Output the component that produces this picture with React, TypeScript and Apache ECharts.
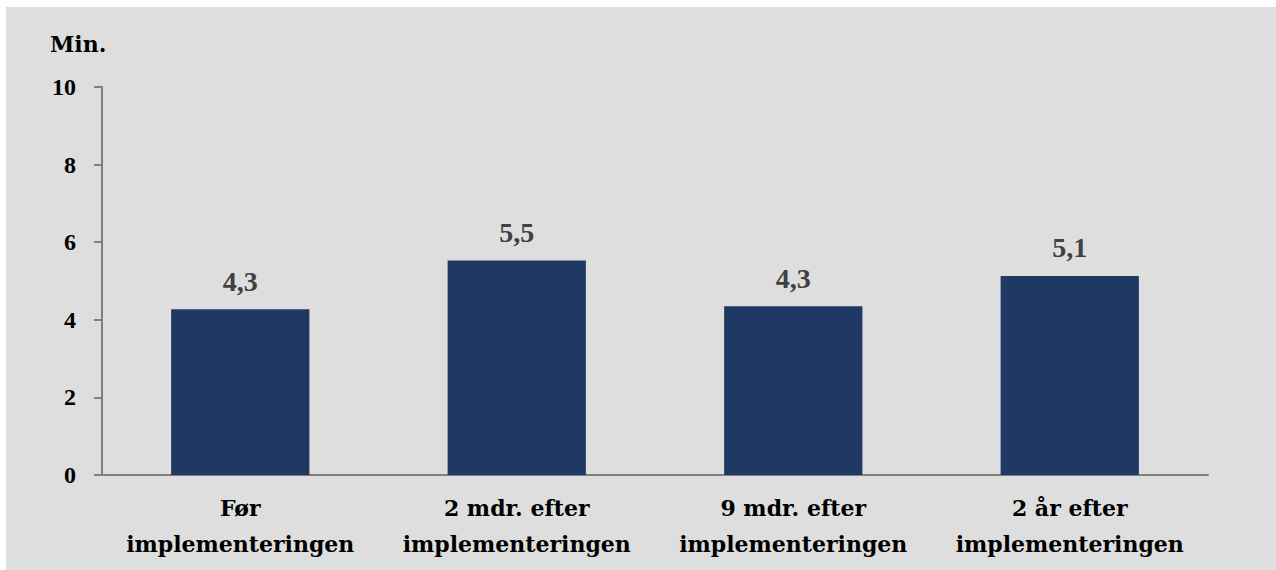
import React, { useEffect, useRef } from "react";
import * as echarts from "echarts";

const categories = [
  "Før\nimplementeringen",
  "2 mdr. efter\nimplementeringen",
  "9 mdr. efter\nimplementeringen",
  "2 år efter\nimplementeringen",
];
const values = [4.27, 5.53, 4.35, 5.13];
const yTicks = [0, 2, 4, 6, 8, 10];
const unitLabel = "Min.";

const FONT = "'Liberation Serif', 'DejaVu Serif', serif";
const WIDE = "'DejaVu Serif', 'Liberation Serif', serif";

export default function App() {
  const ref = useRef<HTMLDivElement>(null);
  useEffect(() => {
    if (!ref.current) return;
    const chart = echarts.init(ref.current, undefined, { renderer: "svg" });
    chart.setOption({
      animation: false,
      backgroundColor: "#dedede",
      grid: { left: 96, right: 68, top: 80, bottom: 95, containLabel: false },
      graphic: [
        {
          type: "text",
          left: 44,
          top: 26,
          style: { text: unitLabel, font: `bold 22px ${WIDE}`, fill: "#000" },
        },
      ],
      xAxis: {
        type: "category",
        data: categories,
        axisLine: { lineStyle: { color: "#7f7f7f", width: 2 } },
        axisTick: { show: false },
        axisLabel: {
          interval: 0,
          hideOverlap: false,
          color: "#000",
          fontFamily: WIDE,
          fontWeight: "bold",
          fontSize: 22,
          lineHeight: 36,
          margin: 15,
        },
      },
      yAxis: {
        type: "value",
        min: 0,
        max: 10,
        interval: 2,
        splitLine: { show: false },
        axisLine: { show: true, lineStyle: { color: "#7f7f7f", width: 2 } },
        axisTick: { show: true, length: 8, lineStyle: { color: "#7f7f7f", width: 2 } },
        axisLabel: {
          color: "#000",
          fontFamily: FONT,
          fontWeight: "bold",
          fontSize: 24,
          margin: 26,
          formatter: (v: number) => (yTicks.includes(v) ? String(v) : ""),
        },
      },
      series: [
        {
          type: "bar",
          data: values,
          barWidth: "50%",
          itemStyle: { color: "#203864" },
          label: {
            show: true,
            position: "top",
            distance: 14,
            color: "#404040",
            fontFamily: FONT,
            fontWeight: "bold",
            fontSize: 28,
            formatter: (p: any) => p.value.toFixed(1).replace(".", ","),
          },
        },
      ],
    });
    return () => chart.dispose();
  }, []);
  return (
    <div style={{ position: "fixed", inset: 0, background: "#fff" }}>
      <div
        ref={ref}
        style={{ position: "absolute", left: 6, top: 7, width: 1270, height: 563 }}
      />
    </div>
  );
}
